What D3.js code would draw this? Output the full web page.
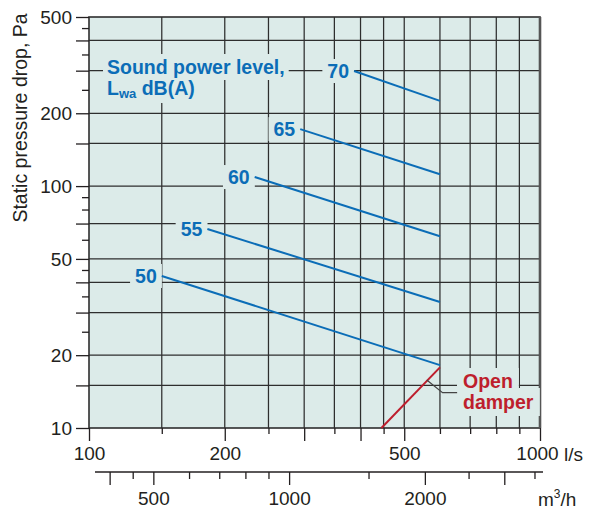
<!DOCTYPE html>
<html>
<head>
<meta charset="utf-8">
<script src="https://cdn.jsdelivr.net/npm/d3@7"></script>
<style>
   body{margin:0;background:#fff;}
   text{font-family:"Liberation Sans",Arial,Helvetica,sans-serif;}
</style>
</head>
<body>
<script>

/////////////////////////////////////////////////////////////////////
// DATA
/////////////////////////////////////////////////////////////////////
var levels=[50,55,60,65,70];                 // Lwa dB(A)
var startFlow=[145,183,233,294,387];         // l/s
var startPressure=[42.5,66.5,109,172,299];   // Pa
var endFlow=[600,600,600,600,600];
var endPressure=[18.2,33.2,62,112,225];

var damperFlow=[445,600];
var damperPressure=[10,17.8];
var leaderFlow=[561,608,655];
var leaderPressure=[15.8,14,14];

var flowGrid=[145,200,250,300,350,400,450,500,600,700,800,900];
var flowTickLong=[100,200,300,400,500,1000];
var flowTickShort=[145,250,350,450,600,700,800,900];
var flowLabels=[100,200,500,1000];

var pressureGrid=[15,20,30,40,50,70,100,150,200,300,400];
var pressureTickLong=[10,15,20,30,40,50,70,100,150,200,300,400,500];
var pressureTickShort=[25,35,45,60,80,90,250,350,450];
var pressureLabels=[10,20,50,100,200,500];

var m3hTickLong=[400,500,1000,2000,3000];
var m3hTickShort=[450,600,700,800,900,1500,2500,3500];
var m3hLabels=[500,1000,2000];

/////////////////////////////////////////////////////////////////////
// CHART OBJECT
/////////////////////////////////////////////////////////////////////
var DamperChart=function()
{
   this.width=592;
   this.height=510;
   this.ink="#231f20";
   this.gridInk="#2e2e2e";
   this.paper="#dcebe9";
   this.blue="#0b6db7";
   this.red="#be1e2d";
   this.fontSize=19;
   this.labelSize=19.5;

   this.x=d3.scaleLog().domain([100,1000]).range([89,540]);
   this.xm=d3.scaleLog().domain([360,3600]).range([89,540]); // m3/h = 3.6 * l/s
   this.y=d3.scaleLog().domain([10,500]).range([428,17]);

   this.svg=d3.select("body").append("svg")
              .attr("width",this.width)
              .attr("height",this.height);

   this.addGrid();
   this.addAxes();
   this.knock=this.svg.append("g"); // paper coloured boxes behind labels
   this.top=this.svg.append("g");
   this.addCurves();
   this.addNotes();
}; // DamperChart

DamperChart.prototype = {

   //-------------------------------------------------------------------
   // Background and grid
   //-------------------------------------------------------------------
   addGrid: function(){
      var x=this.x,y=this.y;
      this.svg.append("rect")
              .attr("x",x(100)).attr("y",y(500))
              .attr("width",x(1000)-x(100)).attr("height",y(10)-y(500))
              .attr("fill",this.paper);

      var g=this.svg.append("g").attr("stroke",this.gridInk).attr("stroke-width",1.25);
      g.selectAll("line.v").data(flowGrid).enter().append("line").attr("class","v")
       .attr("x1",function(d){return x(d);}).attr("x2",function(d){return x(d);})
       .attr("y1",y(500)).attr("y2",y(10));
      g.selectAll("line.h").data(pressureGrid).enter().append("line").attr("class","h")
       .attr("x1",x(100)).attr("x2",x(1000))
       .attr("y1",function(d){return y(d);}).attr("y2",function(d){return y(d);});

      // frame
      this.svg.append("rect")
              .attr("x",x(100)).attr("y",y(500))
              .attr("width",x(1000)-x(100)).attr("height",y(10)-y(500))
              .attr("fill","none").attr("stroke",this.gridInk).attr("stroke-width",1.6);
      this.svg.append("line")
              .attr("x1",x(1000)).attr("x2",x(1000)).attr("y1",y(500)).attr("y2",y(10))
              .attr("stroke","#555").attr("stroke-width",2.6);
   }, // .addGrid

   //-------------------------------------------------------------------
   // Axes (l/s, m3/h and Pa)
   //-------------------------------------------------------------------
   addAxes: function(){
      var self=this;
      function fmt(list){return function(d){return list.indexOf(d)>=0?d:"";};}
      function dress(g){
         g.select(".domain").remove();
         g.attr("font-family",null).attr("font-size",null);
         g.selectAll("line").attr("stroke",self.ink).attr("stroke-width",1.3);
         g.selectAll("text").attr("fill",self.ink).style("font-size",self.fontSize+"px");
      }

      // pressure
      var yl=this.svg.append("g").attr("transform","translate("+this.x(100)+",0)");
      yl.call(d3.axisLeft(this.y).tickValues(pressureTickLong).tickSize(13).tickPadding(4)
                .tickFormat(fmt(pressureLabels))).call(dress);
      this.svg.append("g").attr("transform","translate("+this.x(100)+",0)")
              .call(d3.axisLeft(this.y).tickValues(pressureTickShort).tickSize(7).tickFormat("")).call(dress);

      // l/s
      var xl=this.svg.append("g").attr("transform","translate(0,"+this.y(10)+")");
      xl.call(d3.axisBottom(this.x).tickValues(flowTickLong).tickSize(13).tickPadding(6)
                .tickFormat(fmt(flowLabels))).call(dress);
      xl.selectAll(".tick text").filter(function(d){return d===1000;}).attr("dx",-3);
      this.svg.append("g").attr("transform","translate(0,"+this.y(10)+")")
              .call(d3.axisBottom(this.x).tickValues(flowTickShort).tickSize(6).tickFormat("")).call(dress);
      this.svg.append("text").attr("x",this.x(1000)+24).attr("y",461)
              .attr("fill",this.ink).style("font-size",this.fontSize+"px").text("l/s");

      // m3/h
      var ym=472;
      this.svg.append("line").attr("x1",95).attr("x2",543).attr("y1",ym).attr("y2",ym)
              .attr("stroke",this.ink).attr("stroke-width",1.5);
      this.svg.append("g").attr("transform","translate(0,"+ym+")")
              .call(d3.axisBottom(this.xm).tickValues(m3hTickLong).tickSize(13).tickPadding(7)
                      .tickFormat(fmt(m3hLabels))).call(dress);
      this.svg.append("g").attr("transform","translate(0,"+ym+")")
              .call(d3.axisBottom(this.xm).tickValues(m3hTickShort).tickSize(7).tickFormat("")).call(dress);
      var unit=this.svg.append("text").attr("x",538).attr("y",506)
                       .attr("fill",this.ink).style("font-size",this.fontSize+"px");
      unit.append("tspan").text("m");
      unit.append("tspan").attr("dy",-8).style("font-size","12px").text("3");
      unit.append("tspan").attr("dy",8).text("/h");

      // axis title
      this.svg.append("text")
              .attr("transform","translate(27,118) rotate(-90)")
              .attr("text-anchor","middle").attr("fill",this.ink)
              .style("font-size","19.5px")
              .text("Static pressure drop, Pa");
   }, // .addAxes

   //-------------------------------------------------------------------
   // Put a paper coloured box behind a text node
   //-------------------------------------------------------------------
   knockout: function(node,padx,pady){
      var b=node.getBBox();
      this.knock.append("rect")
                .attr("x",b.x-padx).attr("y",b.y-pady)
                .attr("width",b.width+2*padx).attr("height",b.height+2*pady)
                .attr("fill",this.paper);
   }, // .knockout

   //-------------------------------------------------------------------
   // Sound power lines and the open damper line
   //-------------------------------------------------------------------
   addCurves: function(){
      var self=this,x=this.x,y=this.y;
      var line=d3.line().x(function(d){return x(d[0]);}).y(function(d){return y(d[1]);});

      levels.forEach(function(lv,i){
         var p=[[startFlow[i],startPressure[i]],[endFlow[i],endPressure[i]]];
         self.top.append("path").attr("d",line(p))
                 .attr("fill","none").attr("stroke",self.blue).attr("stroke-width",2);
         var t=self.top.append("text")
                       .attr("x",x(startFlow[i])-5).attr("y",y(startPressure[i])+7)
                       .attr("text-anchor","end").attr("fill",self.blue)
                       .style("font-size",self.labelSize+"px").style("font-weight","bold")
                       .text(lv);
         self.knockout(t.node(),5,1);
      });

      var dp=damperFlow.map(function(d,i){return [d,damperPressure[i]];});
      this.top.append("path").attr("d",line(dp))
              .attr("fill","none").attr("stroke",this.red).attr("stroke-width",2);

      var lp=leaderFlow.map(function(d,i){return [d,leaderPressure[i]];});
      this.top.append("path").attr("d",line(lp))
              .attr("fill","none").attr("stroke","#444").attr("stroke-width",1.2);
   }, // .addCurves

   //-------------------------------------------------------------------
   // Text notes
   //-------------------------------------------------------------------
   addNotes: function(){
      var s=this.labelSize+"px";
      var t1=this.top.append("text").attr("x",107).attr("y",74)
                     .attr("fill",this.blue).style("font-size",s).style("font-weight","bold")
                     .text("Sound power level,");
      this.knockout(t1.node(),4,2);
      var t2=this.top.append("text").attr("x",107).attr("y",95)
                     .attr("fill",this.blue).style("font-size",s).style("font-weight","bold");
      t2.append("tspan").text("L");
      t2.append("tspan").attr("dy",3).style("font-size","13px").text("wa");
      t2.append("tspan").attr("dy",-3).text(" dB(A)");
      this.knockout(t2.node(),4,2);

      var o1=this.top.append("text").attr("x",463).attr("y",388)
                     .attr("fill",this.red).style("font-size",s).style("font-weight","bold")
                     .text("Open");
      var o2=this.top.append("text").attr("x",463).attr("y",409)
                     .attr("fill",this.red).style("font-size",s).style("font-weight","bold")
                     .text("damper");
      this.knockout(o1.node(),6,2);
      this.knockout(o2.node(),6,3);
   } // .addNotes
}; // DamperChart.prototype

var chart=new DamperChart();

</script>
</body>
</html>
